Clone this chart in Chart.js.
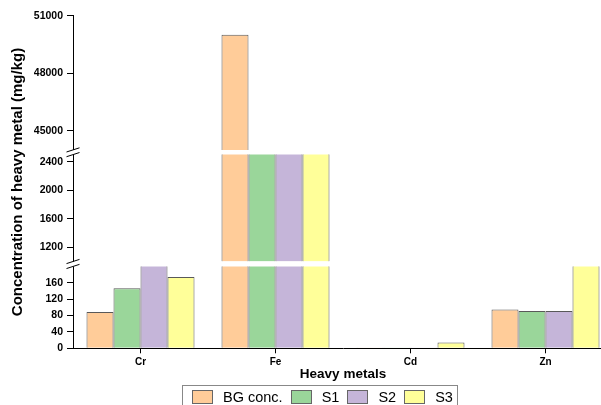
<!DOCTYPE html>
<html>
<head>
<meta charset="utf-8">
<script src="https://cdn.jsdelivr.net/npm/chart.js@4.4.1/dist/chart.umd.min.js"></script>
<style>
  html, body { margin: 0; padding: 0; width: 601px; height: 405px; overflow: hidden; background: #fff; }
  #wrap { position: absolute; left: 0; top: 0; width: 614px; height: 405px; }
  #legend {
    position: absolute; left: 182px; top: 385px; height: 26px;
    display: flex; align-items: flex-start; box-sizing: border-box;
    padding: 3px 4px 0 9px; border: 1px solid #888;
    font: 14.5px "Liberation Sans", Arial, sans-serif; color: #000;
  }
  .item { display: flex; align-items: center; margin-right: 8px; line-height: 16px; }
  .item:last-child { margin-right: 0; }
  .sw { width: 21px; height: 14px; box-sizing: border-box; border: 1px solid #666; margin-right: 10px; }
</style>
</head>
<body>
<div id="wrap"><canvas id="chart"></canvas></div>
<div id="legend"></div>
<script>
const metals = ["Cr", "Fe", "Cd", "Zn"];
const seriesNames = ["BG conc.", "S1", "S2", "S3"];
const bgConc = [89, 50000, 0.3, 95];
const s1 = [147, 2900, 0.2, 91];
const s2 = [230, 2900, 0.2, 91];
const s3 = [174, 2900, 14, 240];
const seriesValues = [bgConc, s1, s2, s3];
const colors = ["#FFCC99", "#9AD69A", "#C5B5D9", "#FFFF99"];

const bottomTicks = [0, 40, 80, 120, 160];
const middleTicks = [1200, 1600, 2000, 2400];
const topTicks = [45000, 48000, 51000];

// broken y axis: three stacked pieces, each shows [from, to]
const segments = [
  { id: "yBottom", from: 0, to: 200, min: 0, max: 206, weight: 84.3, ticks: bottomTicks },
  { id: "yMiddle", from: 1000, to: 2500, min: 965, max: 2534, weight: 111.8, ticks: middleTicks },
  { id: "yTop", from: 44000, to: 51000, min: 43880, max: 51000, weight: 136.5, ticks: topTicks }
];

Chart.defaults.font.family = '"Liberation Sans", Arial, sans-serif';
Chart.defaults.color = "#000";

const datasets = [];
seriesNames.forEach((name, k) => {
  segments.forEach((seg) => {
    datasets.push({
      label: name,
      stack: name,
      yAxisID: seg.id,
      data: seriesValues[k].map(v => (v > seg.from ? [seg.from, v] : null)),
      backgroundColor: colors[k],
      borderColor: "#595959",
      borderWidth: 1,
      barPercentage: 1,
      categoryPercentage: 0.8
    });
  });
});

const scales = {
  x: {
    offset: true,
    afterFit: s => { s.height = 34; },
    grid: { offset: false, drawOnChartArea: false, tickLength: 5, color: "#000" },
    border: { color: "#000" },
    ticks: { padding: 3, maxRotation: 0, autoSkip: false, font: { size: 10, weight: "bold" } },
    title: { display: true, text: "Heavy metals", font: { size: 13.5, weight: "bold" }, padding: { top: 0, bottom: 0 } }
  }
};
segments.forEach((seg) => {
  scales[seg.id] = {
    type: "linear",
    position: "left",
    stack: "v",
    stackWeight: seg.weight,
    stacked: false,
    min: seg.min,
    max: seg.max,
    afterBuildTicks: s => { s.ticks = seg.ticks.map(v => ({ value: v })); },
    afterFit: s => { s.width = 39; },
    grid: { drawOnChartArea: false, tickLength: 6, color: "#000" },
    border: { color: "#000" },
    ticks: { padding: 4, autoSkip: false, font: { size: 10.5, weight: "bold" }, callback: v => v }
  };
});
scales.yTitle = {
  type: "linear",
  position: "left",
  weight: 1,
  afterFit: s => { s.width = 34; },
  ticks: { display: false },
  grid: { display: false },
  border: { display: false },
  title: {
    display: true,
    text: "Concentration of heavy metal (mg/kg)",
    font: { size: 15, weight: "bold" },
    padding: { top: 9, bottom: 7 }
  }
};

// keep each dataset inside its own piece of the broken axis
const segmentClip = {
  id: "segmentClip",
  beforeDatasetDraw(chart, args) {
    const seg = segments.find(s => s.id === args.meta.yAxisID);
    const y = chart.scales[seg.id];
    const top = y.getPixelForValue(seg.to);
    const bottom = y.getPixelForValue(seg.from);
    const area = chart.chartArea;
    chart.ctx.save();
    chart.ctx.beginPath();
    chart.ctx.rect(area.left, top, area.right - area.left, bottom - top);
    chart.ctx.clip();
  },
  afterDatasetDraw(chart) {
    chart.ctx.restore();
  }
};

// the // marks on the y axis
const breakMarks = {
  id: "breakMarks",
  afterDraw(chart) {
    const ctx = chart.ctx;
    const x = chart.chartArea.left;
    for (let i = 0; i < segments.length - 1; i++) {
      const lower = segments[i], upper = segments[i + 1];
      const yLow = chart.scales[lower.id].getPixelForValue(lower.to);
      const yHigh = chart.scales[upper.id].getPixelForValue(upper.from);
      ctx.save();
      ctx.fillStyle = "#fff";
      ctx.fillRect(x - 2, yHigh, 4, yLow - yHigh);
      ctx.strokeStyle = "#000";
      ctx.lineWidth = 1;
      [yHigh, yLow].forEach((y) => {
        ctx.beginPath();
        ctx.moveTo(x - 6.5, y + 2.1);
        ctx.lineTo(x + 6.5, y - 2.1);
        ctx.stroke();
      });
      ctx.restore();
    }
  }
};

new Chart(document.getElementById("chart"), {
  type: "bar",
  data: { labels: metals, datasets },
  options: {
    responsive: true,
    maintainAspectRatio: false,
    animation: false,
    layout: { padding: { top: 15.7, left: 0, right: 1, bottom: 22.7 } },
    plugins: { legend: { display: false }, tooltip: { enabled: false } },
    scales
  },
  plugins: [segmentClip, breakMarks]
});

// legend box
const legend = document.getElementById("legend");
seriesNames.forEach((name, k) => {
  const item = document.createElement("div");
  item.className = "item";
  const sw = document.createElement("span");
  sw.className = "sw";
  sw.style.background = colors[k];
  const label = document.createElement("span");
  label.textContent = name;
  item.appendChild(sw);
  item.appendChild(label);
  legend.appendChild(item);
});
</script>
</body>
</html>
